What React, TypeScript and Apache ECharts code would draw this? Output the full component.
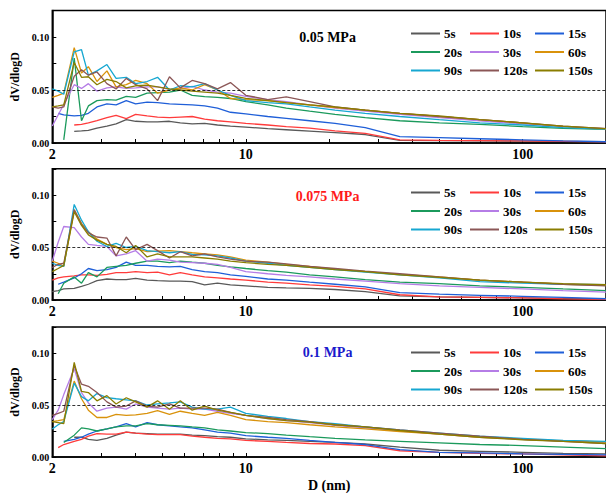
import React, { useEffect, useRef } from "react";
import * as echarts from "echarts";

const FONT = '"Liberation Serif", "Times New Roman", serif';

// pore diameter grid (nm)
const D_NM = [2.0, 2.1, 2.2, 2.4, 2.55, 2.7, 2.9, 3.15, 3.4, 3.7, 4.0, 4.4, 4.8, 5.3, 5.8, 6.4, 7.1, 7.9, 8.8, 10, 12, 14, 17, 21, 27, 36, 50, 70, 100, 140, 200];
const X_TICKS = [2, 3, 4, 5, 6, 7, 8, 9, 10, 20, 30, 40, 50, 60, 70, 80, 90, 100, 200];
const X_LABELS = [2, 10, 100];
const TIMES = ["5s", "10s", "15s", "20s", "30s", "60s", "90s", "120s", "150s"];
const COLORS = ["#595959", "#ff3b3b", "#1f5fd8", "#1b9a5c", "#b57de6", "#d9920b", "#16a7d1", "#8b5656", "#8a7d00"];
const PRESSURES = ["0.05 MPa", "0.075 MPa", "0.1 MPa"];
const PRESSURE_COLORS = ["#000000", "#ff1a1a", "#1a1acc"];

type V = number | null;

// 0.05 MPa
const P1_5s: V[] = [null, null, null, 0.011, 0.0115, 0.012, 0.014, 0.016, 0.018, 0.022, 0.0205, 0.020, 0.020, 0.0205, 0.019, 0.018, 0.0185, 0.017, 0.016, 0.015, 0.0135, 0.0125, 0.0112, 0.0098, 0.008, 0.0025, 0.0022, 0.002, 0.0018, 0.0015, 0.0012];
const P1_10s: V[] = [null, null, null, 0.017, 0.0175, 0.019, 0.021, 0.024, 0.026, 0.023, 0.027, 0.0255, 0.0245, 0.024, 0.0245, 0.025, 0.0225, 0.021, 0.020, 0.0185, 0.017, 0.0155, 0.014, 0.0115, 0.009, 0.003, 0.0025, 0.0022, 0.002, 0.0015, 0.001];
const P1_15s: V[] = [null, 0.028, 0.0265, 0.0255, 0.026, 0.028, 0.034, 0.037, 0.036, 0.040, 0.037, 0.0385, 0.038, 0.037, 0.0365, 0.036, 0.035, 0.033, 0.029, 0.0275, 0.025, 0.0232, 0.021, 0.0185, 0.0145, 0.006, 0.005, 0.004, 0.003, 0.002, 0.0012];
const P1_20s: V[] = [null, null, 0.003, 0.080, 0.021, 0.035, 0.040, 0.041, 0.0405, 0.044, 0.043, 0.047, 0.0475, 0.048, 0.050, 0.045, 0.0437, 0.043, 0.042, 0.039, 0.036, 0.033, 0.030, 0.027, 0.024, 0.021, 0.019, 0.0175, 0.0155, 0.0138, 0.0128];
const P1_30s: V[] = [0.016, null, null, 0.055, 0.0515, 0.056, 0.049, 0.052, 0.053, 0.0515, 0.052, 0.053, 0.053, 0.0505, 0.051, 0.0535, 0.050, 0.048, 0.047, 0.044, 0.041, 0.039, 0.036, 0.033, 0.030, 0.027, 0.024, 0.021, 0.018, 0.0155, 0.0135];
const P1_60s: V[] = [0.043, 0.045, 0.047, 0.090, 0.066, 0.072, 0.058, 0.068, 0.053, 0.055, 0.059, 0.056, 0.047, 0.050, 0.052, 0.050, 0.055, 0.050, 0.042, 0.041, 0.040, 0.038, 0.036, 0.0335, 0.031, 0.028, 0.025, 0.022, 0.019, 0.0155, 0.013];
const P1_90s: V[] = [0.051, 0.049, 0.046, 0.086, 0.088, 0.064, 0.068, 0.074, 0.061, 0.062, 0.056, 0.058, 0.062, 0.050, 0.054, 0.053, 0.056, 0.050, 0.045, 0.040, 0.038, 0.037, 0.034, 0.031, 0.028, 0.025, 0.022, 0.019, 0.017, 0.0145, 0.013];
const P1_120s: V[] = [0.034, 0.033, 0.034, 0.063, 0.069, 0.064, 0.067, 0.056, 0.051, 0.061, 0.055, 0.051, 0.040, 0.0625, 0.052, 0.059, 0.056, 0.051, 0.057, 0.045, 0.041, 0.0435, 0.039, 0.034, 0.031, 0.028, 0.025, 0.022, 0.019, 0.016, 0.0135];
const P1_150s: V[] = [0.034, 0.035, 0.036, 0.076, 0.062, 0.0625, 0.055, 0.060, 0.058, 0.052, 0.054, 0.0545, 0.053, 0.051, 0.050, 0.049, 0.048, 0.047, 0.045, 0.042, 0.040, 0.038, 0.036, 0.034, 0.031, 0.028, 0.0255, 0.022, 0.019, 0.016, 0.0135];

// 0.075 MPa
const P2_5s: V[] = [0.008, 0.009, 0.0105, 0.011, 0.013, 0.015, 0.0185, 0.020, 0.0195, 0.0195, 0.0205, 0.019, 0.0185, 0.018, 0.018, 0.0175, 0.0145, 0.016, 0.0145, 0.0135, 0.012, 0.0115, 0.011, 0.010, 0.008, 0.004, 0.003, 0.0025, 0.002, 0.0015, 0.001];
const P2_10s: V[] = [0.019, 0.021, 0.022, 0.023, 0.024, 0.024, 0.0235, 0.0245, 0.026, 0.026, 0.027, 0.026, 0.0265, 0.024, 0.026, 0.024, 0.022, 0.021, 0.020, 0.019, 0.017, 0.016, 0.0145, 0.013, 0.0105, 0.005, 0.003, 0.0025, 0.002, 0.001, 0.0005];
const P2_15s: V[] = [null, 0.015, 0.017, 0.021, 0.025, 0.030, 0.028, 0.029, 0.031, 0.036, 0.033, 0.033, 0.032, 0.0315, 0.032, 0.029, 0.027, 0.026, 0.024, 0.0225, 0.020, 0.019, 0.017, 0.015, 0.0125, 0.007, 0.0055, 0.0045, 0.0035, 0.0025, 0.0012];
const P2_20s: V[] = [null, 0.006, 0.016, 0.022, 0.016, 0.026, 0.022, 0.031, 0.032, 0.033, 0.035, 0.037, 0.037, 0.0355, 0.037, 0.036, 0.035, 0.033, 0.0315, 0.030, 0.028, 0.0265, 0.024, 0.022, 0.0195, 0.017, 0.0155, 0.0135, 0.012, 0.0105, 0.009];
const P2_30s: V[] = [0.037, 0.055, 0.070, 0.069, 0.060, 0.053, 0.052, 0.051, 0.042, 0.044, 0.047, 0.037, 0.039, 0.038, 0.036, 0.0355, 0.035, 0.034, 0.031, 0.027, 0.025, 0.0235, 0.022, 0.020, 0.018, 0.0155, 0.0135, 0.012, 0.0105, 0.009, 0.0075];
const P2_60s: V[] = [0.037, 0.035, 0.032, 0.086, 0.073, 0.065, 0.058, 0.053, 0.050, 0.048, 0.049, 0.046, 0.0465, 0.047, 0.046, 0.045, 0.044, 0.043, 0.041, 0.038, 0.036, 0.034, 0.032, 0.0295, 0.027, 0.0245, 0.022, 0.019, 0.017, 0.015, 0.014];
const P2_90s: V[] = [0.035, 0.033, 0.032, 0.091, 0.076, 0.065, 0.056, 0.051, 0.054, 0.050, 0.051, 0.047, 0.046, 0.045, 0.046, 0.0435, 0.043, 0.042, 0.040, 0.037, 0.035, 0.033, 0.031, 0.029, 0.0265, 0.024, 0.021, 0.0175, 0.016, 0.015, 0.0145];
const P2_120s: V[] = [0.031, 0.034, 0.035, 0.086, 0.072, 0.064, 0.060, 0.059, 0.042, 0.060, 0.048, 0.053, 0.047, 0.040, 0.046, 0.042, 0.044, 0.041, 0.039, 0.037, 0.036, 0.0345, 0.032, 0.030, 0.0275, 0.025, 0.022, 0.019, 0.017, 0.015, 0.0135];
const P2_150s: V[] = [0.027, 0.030, 0.033, 0.084, 0.071, 0.062, 0.057, 0.053, 0.051, 0.045, 0.052, 0.041, 0.044, 0.041, 0.041, 0.041, 0.040, 0.039, 0.037, 0.0355, 0.034, 0.033, 0.031, 0.029, 0.027, 0.024, 0.0215, 0.019, 0.017, 0.0155, 0.0145];

// 0.1 MPa
const P3_5s: V[] = [null, null, null, 0.019, 0.019, 0.017, 0.016, 0.018, 0.021, 0.024, 0.023, 0.0225, 0.022, 0.022, 0.022, 0.021, 0.0205, 0.0195, 0.019, 0.0175, 0.0165, 0.016, 0.015, 0.014, 0.0125, 0.0095, 0.0065, 0.0055, 0.0045, 0.0035, 0.003];
const P3_10s: V[] = [null, 0.009, 0.012, 0.015, 0.017, 0.020, 0.0225, 0.022, 0.022, 0.024, 0.023, 0.022, 0.0215, 0.0215, 0.0215, 0.020, 0.019, 0.018, 0.0175, 0.016, 0.015, 0.014, 0.013, 0.0125, 0.011, 0.006, 0.0045, 0.0035, 0.003, 0.002, 0.001];
const P3_15s: V[] = [null, null, 0.015, 0.017, 0.019, 0.022, 0.025, 0.027, 0.029, 0.032, 0.029, 0.033, 0.031, 0.030, 0.029, 0.028, 0.026, 0.024, 0.023, 0.0205, 0.019, 0.018, 0.016, 0.014, 0.012, 0.007, 0.0045, 0.004, 0.003, 0.0025, 0.002];
const P3_20s: V[] = [null, null, 0.014, 0.021, 0.028, 0.027, 0.025, 0.027, 0.029, 0.030, 0.030, 0.032, 0.031, 0.0305, 0.030, 0.029, 0.028, 0.026, 0.025, 0.0235, 0.0225, 0.021, 0.0195, 0.018, 0.0165, 0.015, 0.0135, 0.012, 0.011, 0.0095, 0.008];
const P3_30s: V[] = [0.036, 0.045, 0.060, 0.085, 0.062, 0.052, 0.044, 0.047, 0.048, 0.046, 0.051, 0.048, 0.047, 0.046, 0.047, 0.046, 0.046, 0.044, 0.042, 0.040, 0.037, 0.035, 0.033, 0.0305, 0.028, 0.025, 0.022, 0.019, 0.017, 0.0155, 0.0145];
const P3_60s: V[] = [0.034, 0.035, 0.036, 0.073, 0.056, 0.045, 0.038, 0.038, 0.041, 0.040, 0.0405, 0.042, 0.0445, 0.041, 0.044, 0.042, 0.040, 0.043, 0.040, 0.036, 0.034, 0.033, 0.031, 0.029, 0.027, 0.0245, 0.022, 0.019, 0.017, 0.0155, 0.0145];
const P3_90s: V[] = [0.027, 0.031, 0.034, 0.071, 0.058, 0.054, 0.061, 0.057, 0.056, 0.055, 0.054, 0.050, 0.051, 0.052, 0.053, 0.048, 0.046, 0.046, 0.048, 0.042, 0.039, 0.037, 0.034, 0.032, 0.029, 0.026, 0.023, 0.020, 0.018, 0.016, 0.015];
const P3_120s: V[] = [0.040, 0.042, 0.044, 0.088, 0.070, 0.068, 0.062, 0.053, 0.048, 0.049, 0.054, 0.049, 0.048, 0.051, 0.047, 0.047, 0.047, 0.046, 0.043, 0.040, 0.038, 0.036, 0.034, 0.031, 0.029, 0.026, 0.023, 0.020, 0.017, 0.015, 0.013];
const P3_150s: V[] = [0.034, 0.033, 0.032, 0.091, 0.063, 0.062, 0.054, 0.059, 0.051, 0.057, 0.053, 0.048, 0.054, 0.046, 0.054, 0.045, 0.049, 0.045, 0.043, 0.040, 0.037, 0.035, 0.0335, 0.031, 0.029, 0.0255, 0.022, 0.019, 0.0165, 0.015, 0.013];

const PANEL_DATA: V[][][] = [
  [P1_5s, P1_10s, P1_15s, P1_20s, P1_30s, P1_60s, P1_90s, P1_120s, P1_150s],
  [P2_5s, P2_10s, P2_15s, P2_20s, P2_30s, P2_60s, P2_90s, P2_120s, P2_150s],
  [P3_5s, P3_10s, P3_15s, P3_20s, P3_30s, P3_60s, P3_90s, P3_120s, P3_150s],
];

const GRID_TOPS = [10.5, 168.75, 327];
const GRID_HEIGHTS = [132.5, 131.25, 131];
const LEGEND_TOPS = [27, 186, 346];
const LEGEND_LEFTS = [411, 470, 535];

function buildOption(): any {
  const grid = GRID_TOPS.map((top, i) => ({
    left: 52.3,
    top,
    width: 560,
    height: GRID_HEIGHTS[i],
    show: true,
    borderColor: "#000",
    borderWidth: 1.5,
    backgroundColor: "transparent",
  }));

  const xAxis = GRID_TOPS.map((_, i) => ({
    type: "log",
    logBase: 10,
    gridIndex: i,
    min: 2,
    max: 200,
    axisLine: { show: true, lineStyle: { color: "#000", width: 1.5 } },
    axisTick: {
      show: true,
      inside: true,
      length: 4,
      customValues: X_TICKS,
      lineStyle: { color: "#000", width: 1 },
    },
    minorTick: { show: false },
    splitLine: { show: false },
    axisLabel: {
      customValues: X_LABELS,
      formatter: (v: number) => (X_LABELS.some((l) => Math.abs(l - v) < 1e-6) ? String(Math.round(v)) : ""),
      fontFamily: FONT,
      fontWeight: "bold",
      fontSize: 14,
      color: "#000",
      margin: 4,
    },
    name: i === 2 ? "D (nm)" : "",
    nameLocation: "middle",
    nameGap: 21,
    nameTextStyle: { fontFamily: FONT, fontWeight: "bold", fontSize: 14, color: "#000" },
  }));

  const yAxis = GRID_TOPS.map((_, i) => ({
    type: "value",
    gridIndex: i,
    min: 0,
    max: 0.125,
    interval: 0.025,
    axisLine: { show: true, lineStyle: { color: "#000", width: 1.5 } },
    axisTick: { show: true, inside: true, length: 4, lineStyle: { color: "#000", width: 1 } },
    splitLine: { show: false },
    axisLabel: {
      formatter: (v: number) => {
        const r = v / 0.05;
        return Math.abs(r - Math.round(r)) < 1e-6 ? v.toFixed(2) : "";
      },
      fontFamily: FONT,
      fontWeight: "bold",
      fontSize: 10,
      color: "#000",
      margin: 3,
    },
    name: "dV/dlogD",
    nameLocation: "middle",
    nameRotate: 90,
    nameGap: 28,
    nameTextStyle: { fontFamily: FONT, fontWeight: "bold", fontSize: 12, color: "#000" },
  }));

  const series: any[] = [];
  PANEL_DATA.forEach((rows, p) => {
    rows.forEach((vals, k) => {
      series.push({
        type: "line",
        name: TIMES[k],
        xAxisIndex: p,
        yAxisIndex: p,
        data: D_NM.map((d, j) => [d, vals[j]]).filter((pt) => pt[1] != null),
        symbol: "none",
        showSymbol: false,
        clip: true,
        lineStyle: { width: 1.3, color: COLORS[k] },
        itemStyle: { color: COLORS[k] },
        emphasis: { disabled: true },
        z: 2 + k,
        markLine:
          k === 0
            ? {
                silent: true,
                symbol: ["none", "none"],
                label: { show: false },
                lineStyle: { type: [3, 2], color: "#000", width: 0.8 },
                data: [{ yAxis: 0.05 }],
                z: 20,
              }
            : undefined,
      });
    });
  });

  const legend: any[] = [];
  LEGEND_TOPS.forEach((top) => {
    LEGEND_LEFTS.forEach((left, c) => {
      legend.push({
        orient: "vertical",
        left,
        top,
        padding: 0,
        itemGap: 5.5,
        itemWidth: 29,
        itemHeight: 2,
        icon: "rect",
        selectedMode: false,
        data: [TIMES[c], TIMES[c + 3], TIMES[c + 6]],
        textStyle: { fontFamily: FONT, fontWeight: "bold", fontSize: 13, color: "#000", padding: [0, 0, 0, -1] },
      });
    });
  });

  const graphic = PRESSURES.map((t, i) => ({
    type: "text",
    x: 327.5,
    y: [37, 196, 352][i],
    style: {
      text: t,
      fill: PRESSURE_COLORS[i],
      fontFamily: FONT,
      fontWeight: "bold",
      fontSize: 14,
      align: "center",
      verticalAlign: "middle",
    },
    z: 30,
  }));

  return {
    animation: false,
    backgroundColor: "#ffffff",
    grid,
    xAxis,
    yAxis,
    legend,
    series,
    graphic,
  };
}

export default function App() {
  const ref = useRef<HTMLDivElement>(null);
  useEffect(() => {
    if (!ref.current) return;
    const chart = echarts.init(ref.current, undefined, { renderer: "svg" });
    chart.setOption(buildOption());
    return () => chart.dispose();
  }, []);
  return (
    <div
      ref={ref}
      style={{ position: "absolute", left: 0, top: 0, width: 606, height: 493 }}
    />
  );
}
